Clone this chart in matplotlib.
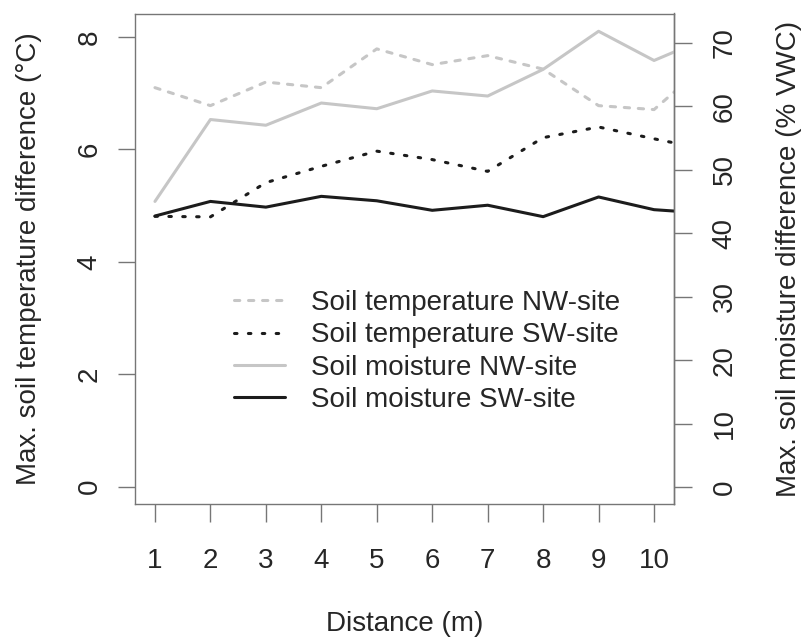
import matplotlib
matplotlib.use("Agg")
import matplotlib.pyplot as plt
from matplotlib.lines import Line2D

plt.rcParams["font.family"] = ["Liberation Sans", "DejaVu Sans"]
plt.rcParams["lines.scale_dashes"] = False

# Distance from the edge (m) and maximum differences per site
distance = [1, 2, 3, 4, 5, 6, 7, 8, 9, 10, 11]
temp_nw = [7.10, 6.78, 7.20, 7.10, 7.79, 7.51, 7.67, 7.43, 6.78, 6.71, 7.57]
temp_sw = [4.81, 4.80, 5.41, 5.70, 5.97, 5.82, 5.61, 6.21, 6.40, 6.19, 5.99]
moist_nw = [45.0, 57.9, 57.0, 60.5, 59.6, 62.4, 61.6, 65.8, 71.8, 67.2, 70.9]
moist_sw = [42.7, 45.0, 44.1, 45.8, 45.1, 43.6, 44.4, 42.6, 45.7, 43.7, 43.1]

x_ticks = [1, 2, 3, 4, 5, 6, 7, 8, 9, 10]
temp_ticks = [0, 2, 4, 6, 8]
moist_ticks = [0, 10, 20, 30, 40, 50, 60, 70]

labels = ["Soil temperature NW-site", "Soil temperature SW-site",
          "Soil moisture NW-site", "Soil moisture SW-site"]

W, H = 804, 639
FS = 20
GREY = "#c6c6c6"
BLACK = "#1c1c1c"
AXC = "#767676"
TXT = "#262626"
LW = 2.2

fig = plt.figure(figsize=(W / 100, H / 100), dpi=100)
left, right, top, bottom = 135, 674, 13.5, 504
ax = fig.add_axes([left / W, 1 - bottom / H, (right - left) / W, (bottom - top) / H])
ax2 = ax.twinx()

style_tnw = dict(color=GREY, lw=LW, linestyle=(0, (3.8, 6.3)),
                 dash_capstyle="round", dash_joinstyle="round")
style_tsw = dict(color=BLACK, lw=LW, linestyle=(0, (1.8, 8.2)),
                 dash_capstyle="round", dash_joinstyle="round")
style_mnw = dict(color=GREY, lw=LW, solid_capstyle="round", solid_joinstyle="round")
style_msw = dict(color=BLACK, lw=LW, solid_capstyle="round", solid_joinstyle="round")

ax.plot(distance, temp_nw, **style_tnw)
ax.plot(distance, temp_sw, **style_tsw)
ax2.plot(distance, moist_nw, **style_mnw)
ax2.plot(distance, moist_sw, **style_msw)

ax.set_xlim(0.64, 10.36)
ax.set_ylim(-0.31, 8.42)
ax2.set_ylim(-2.66, 74.6)

ax.set_xticks(x_ticks)
ax.set_xticklabels([str(v) for v in x_ticks])
ax.set_yticks(temp_ticks)
ax.set_yticklabels([str(v) for v in temp_ticks], rotation=90, va="center")
ax2.set_yticks(moist_ticks)
ax2.set_yticklabels([str(v) for v in moist_ticks], rotation=90, va="center")

for a in (ax, ax2):
    for s in a.spines.values():
        s.set_color(AXC)
        s.set_linewidth(1.0)
ax2.spines["left"].set_visible(False)
ax2.spines["top"].set_visible(False)
ax2.spines["bottom"].set_visible(False)

ax.tick_params(axis="x", direction="out", length=12.7, width=1.0, color=AXC,
               labelsize=FS, labelcolor=TXT, pad=19)
ax.tick_params(axis="y", direction="out", length=12.2, width=1.0, color=AXC,
               labelsize=FS, labelcolor=TXT, pad=11)
ax2.tick_params(axis="y", direction="out", length=13, width=1.0, color=AXC,
                labelsize=FS, labelcolor=TXT, pad=14)

fig.text(29 / W, 1 - 259 / H, "Max. soil temperature difference (°C)",
         rotation=90, ha="center", va="center", fontsize=FS, color=TXT)
fig.text(789 / W, 1 - 259 / H, "Max. soil moisture difference (% VWC)",
         rotation=90, ha="center", va="center", fontsize=FS, color=TXT)
fig.text((left + right) / 2 / W, 1 - 624 / H, "Distance (m)",
         ha="center", va="center", fontsize=FS, color=TXT)

handles = [Line2D([], [], **style_tnw), Line2D([], [], **style_tsw),
           Line2D([], [], **style_mnw), Line2D([], [], **style_msw)]
leg = ax2.legend(handles, labels, loc="upper left",
                 bbox_to_anchor=(234 / W, 1 - 290 / H), bbox_transform=fig.transFigure,
                 frameon=False, fontsize=FS, handlelength=1.84, handletextpad=0.92,
                 labelspacing=0.23, borderpad=0, borderaxespad=0)
for t in leg.get_texts():
    t.set_color(TXT)

fig.savefig("out.png", dpi=100)
